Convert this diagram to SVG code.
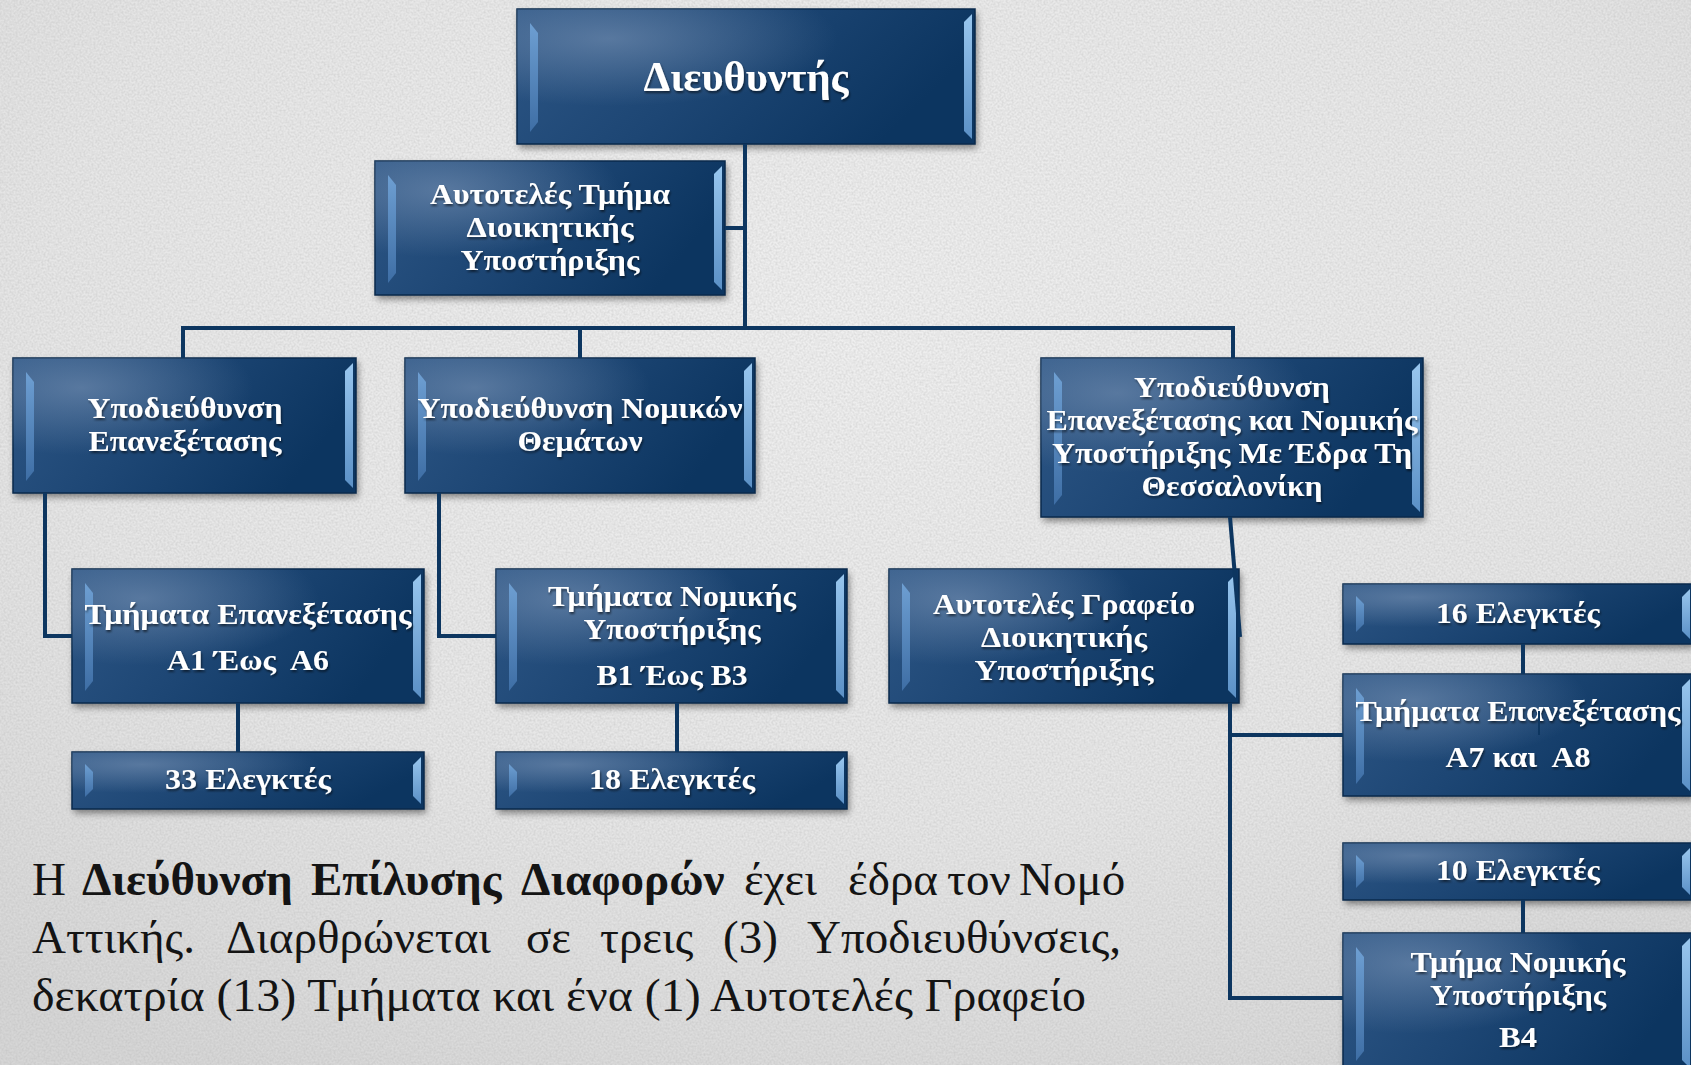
<svg xmlns="http://www.w3.org/2000/svg" width="1691" height="1065" viewBox="0 0 1691 1065">
<style>
.bx{fill:url(#body);stroke:#0a2a4c;stroke-width:1.5}
.hl{fill:url(#hl)}
.sh{fill:#000;opacity:.45;filter:url(#blur)}
.bl{fill:url(#bvL)}
.br{fill:url(#bvR)}
.t{font-family:"Liberation Serif","Times New Roman",serif;font-weight:bold;font-size:29px;fill:#fff;text-anchor:middle;filter:url(#tsh)}
.c{fill:none;stroke:#0d3660;stroke-width:4;stroke-linejoin:miter}
.p{font-family:"Liberation Serif","Times New Roman",serif;font-size:47px;fill:#141414}
.pb{font-weight:bold}
</style>
<defs>
<radialGradient id="bg" cx="0.5" cy="0.3" r="0.8">
<stop offset="0" stop-color="#efefef"/>
<stop offset="0.6" stop-color="#e6e6e6"/>
<stop offset="1" stop-color="#d6d6d6"/>
</radialGradient>
<filter id="paper" x="0" y="0" width="1" height="1">
<feTurbulence type="fractalNoise" baseFrequency="0.5" numOctaves="3" seed="7"/>
<feColorMatrix type="matrix" values="0 0 0 0 0.4  0 0 0 0 0.4  0 0 0 0 0.4  0.6 0 0 0 -0.2"/>
</filter>
<linearGradient id="body" x1="0" y1="0" x2="1" y2="0.3">
<stop offset="0" stop-color="#2d5685"/>
<stop offset="0.5" stop-color="#1d4674"/>
<stop offset="1" stop-color="#0c3560"/>
</linearGradient>
<radialGradient id="hl" cx="0.2" cy="0.22" r="0.5">
<stop offset="0" stop-color="#7a94b6" stop-opacity="0.6"/>
<stop offset="1" stop-color="#7a94b6" stop-opacity="0"/>
</radialGradient>
<linearGradient id="bvL" x1="0" y1="0" x2="0" y2="1">
<stop offset="0" stop-color="#6e9fd2"/>
<stop offset="1" stop-color="#3e6ea5"/>
</linearGradient>
<linearGradient id="bvR" x1="0" y1="0" x2="0" y2="1">
<stop offset="0" stop-color="#98c6ee"/>
<stop offset="1" stop-color="#5b90c6"/>
</linearGradient>
<filter id="blur" x="-10%" y="-20%" width="120%" height="150%">
<feGaussianBlur stdDeviation="3.5"/>
</filter>
<filter id="tsh" x="-5%" y="-20%" width="110%" height="150%">
<feDropShadow dx="1" dy="2" stdDeviation="1" flood-color="#000" flood-opacity="0.55"/>
</filter>
</defs>

<rect width="1691" height="1065" fill="url(#bg)"/>
<rect width="1691" height="1065" filter="url(#paper)"/>

<g id="node-director">
<rect class="sh" x="519" y="13" width="458" height="135"/>
<rect class="bx" x="517" y="9" width="458" height="135"/>
<rect class="hl" x="517" y="9" width="458" height="135"/>
<polygon class="bl" points="530,23 538,33 538,122 530,132"/>
<polygon class="br" points="972,14 964,22 964,131 972,139"/>
<text class="t" style="font-size:42px" x="746" y="91" textLength="205" lengthAdjust="spacingAndGlyphs">Διευθυντής</text>
</g>

<g id="node-autoteles-tmima">
<rect class="sh" x="377" y="165" width="350" height="134"/>
<rect class="bx" x="375" y="161" width="350" height="134"/>
<rect class="hl" x="375" y="161" width="350" height="134"/>
<polygon class="bl" points="388,175 396,185 396,273 388,283"/>
<polygon class="br" points="722,166 714,174 714,282 722,290"/>
<text class="t" x="550" y="204" textLength="240" lengthAdjust="spacingAndGlyphs">Αυτοτελές Τμήμα</text>
<text class="t" x="550" y="237" textLength="167" lengthAdjust="spacingAndGlyphs">Διοικητικής</text>
<text class="t" x="550" y="270" textLength="179" lengthAdjust="spacingAndGlyphs">Υποστήριξης</text>
</g>

<g id="node-ypod-epanex">
<rect class="sh" x="15" y="362" width="343" height="135"/>
<rect class="bx" x="13" y="358" width="343" height="135"/>
<rect class="hl" x="13" y="358" width="343" height="135"/>
<polygon class="bl" points="26,372 34,382 34,471 26,481"/>
<polygon class="br" points="353,363 345,371 345,480 353,488"/>
<text class="t" x="185" y="418" textLength="195" lengthAdjust="spacingAndGlyphs">Υποδιεύθυνση</text>
<text class="t" x="185" y="451" textLength="193" lengthAdjust="spacingAndGlyphs">Επανεξέτασης</text>
</g>

<g id="node-ypod-nomikon">
<rect class="sh" x="407" y="362" width="350" height="135"/>
<rect class="bx" x="405" y="358" width="350" height="135"/>
<rect class="hl" x="405" y="358" width="350" height="135"/>
<polygon class="bl" points="418,372 426,382 426,471 418,481"/>
<polygon class="br" points="752,363 744,371 744,480 752,488"/>
<text class="t" x="580" y="418" textLength="325" lengthAdjust="spacingAndGlyphs">Υποδιεύθυνση Νομικών</text>
<text class="t" x="580" y="451" textLength="125" lengthAdjust="spacingAndGlyphs">Θεμάτων</text>
</g>

<g id="node-ypod-thessaloniki">
<rect class="sh" x="1043" y="362" width="382" height="159"/>
<rect class="bx" x="1041" y="358" width="382" height="159"/>
<rect class="hl" x="1041" y="358" width="382" height="159"/>
<polygon class="bl" points="1054,372 1062,382 1062,495 1054,505"/>
<polygon class="br" points="1420,363 1412,371 1412,504 1420,512"/>
<text class="t" x="1232" y="397" textLength="196" lengthAdjust="spacingAndGlyphs">Υποδιεύθυνση</text>
<text class="t" x="1232" y="430" textLength="371" lengthAdjust="spacingAndGlyphs">Επανεξέτασης και Νομικής</text>
<text class="t" x="1232" y="463" textLength="360" lengthAdjust="spacingAndGlyphs">Υποστήριξης Με Έδρα Τη</text>
<text class="t" x="1232" y="496" textLength="181" lengthAdjust="spacingAndGlyphs">Θεσσαλονίκη</text>
</g>

<g id="node-tmimata-a1-a6">
<rect class="sh" x="74" y="573" width="352" height="134"/>
<rect class="bx" x="72" y="569" width="352" height="134"/>
<rect class="hl" x="72" y="569" width="352" height="134"/>
<polygon class="bl" points="85,583 93,593 93,681 85,691"/>
<polygon class="br" points="421,574 413,582 413,690 421,698"/>
<text class="t" x="248" y="624" textLength="327" lengthAdjust="spacingAndGlyphs">Τμήματα Επανεξέτασης</text>
<text class="t" x="248" y="670" textLength="162" lengthAdjust="spacingAndGlyphs" xml:space="preserve">Α1 Έως  Α6</text>
</g>

<g id="node-tmimata-b1-b3">
<rect class="sh" x="498" y="573" width="351" height="134"/>
<rect class="bx" x="496" y="569" width="351" height="134"/>
<rect class="hl" x="496" y="569" width="351" height="134"/>
<polygon class="bl" points="509,583 517,593 517,681 509,691"/>
<polygon class="br" points="844,574 836,582 836,690 844,698"/>
<text class="t" x="672" y="606" textLength="248" lengthAdjust="spacingAndGlyphs">Τμήματα Νομικής</text>
<text class="t" x="672" y="639" textLength="177" lengthAdjust="spacingAndGlyphs">Υποστήριξης</text>
<text class="t" x="672" y="685" textLength="151" lengthAdjust="spacingAndGlyphs">Β1 Έως Β3</text>
</g>

<g id="node-33-elegktes">
<rect class="sh" x="74" y="756" width="352" height="57"/>
<rect class="bx" x="72" y="752" width="352" height="57"/>
<rect class="hl" x="72" y="752" width="352" height="57"/>
<polygon class="bl" points="85,764 93,772 93,789 85,797"/>
<polygon class="br" points="421,757 413,765 413,796 421,804"/>
<text class="t" x="248" y="789" textLength="166" lengthAdjust="spacingAndGlyphs">33 Ελεγκτές</text>
</g>

<g id="node-18-elegktes">
<rect class="sh" x="498" y="756" width="351" height="57"/>
<rect class="bx" x="496" y="752" width="351" height="57"/>
<rect class="hl" x="496" y="752" width="351" height="57"/>
<polygon class="bl" points="509,764 517,772 517,789 509,797"/>
<polygon class="br" points="844,757 836,765 836,796 844,804"/>
<text class="t" x="672" y="789" textLength="166" lengthAdjust="spacingAndGlyphs">18 Ελεγκτές</text>
</g>

<g id="node-autoteles-grafeio">
<rect class="sh" x="891" y="573" width="350" height="134"/>
<rect class="bx" x="889" y="569" width="350" height="134"/>
<rect class="hl" x="889" y="569" width="350" height="134"/>
<polygon class="bl" points="902,583 910,593 910,681 902,691"/>
<polygon class="br" points="1236,574 1228,582 1228,690 1236,698"/>
<text class="t" x="1064" y="614" textLength="262" lengthAdjust="spacingAndGlyphs">Αυτοτελές Γραφείο</text>
<text class="t" x="1064" y="647" textLength="166" lengthAdjust="spacingAndGlyphs">Διοικητικής</text>
<text class="t" x="1064" y="680" textLength="179" lengthAdjust="spacingAndGlyphs">Υποστήριξης</text>
</g>

<g id="node-16-elegktes">
<rect class="sh" x="1345" y="588" width="350" height="60"/>
<rect class="bx" x="1343" y="584" width="350" height="60"/>
<rect class="hl" x="1343" y="584" width="350" height="60"/>
<polygon class="bl" points="1356,596 1364,604 1364,624 1356,632"/>
<polygon class="br" points="1690,589 1682,597 1682,631 1690,639"/>
<text class="t" x="1518" y="623" textLength="164" lengthAdjust="spacingAndGlyphs">16 Ελεγκτές</text>
</g>

<g id="node-tmimata-a7-a8">
<rect class="sh" x="1345" y="678" width="350" height="122"/>
<rect class="bx" x="1343" y="674" width="350" height="122"/>
<rect class="hl" x="1343" y="674" width="350" height="122"/>
<polygon class="bl" points="1356,688 1364,698 1364,774 1356,784"/>
<polygon class="br" points="1690,679 1682,687 1682,783 1690,791"/>
<text class="t" x="1518" y="721" textLength="325" lengthAdjust="spacingAndGlyphs">Τμήματα Επανεξέτασης</text>
<text class="t" x="1518" y="767" textLength="145" lengthAdjust="spacingAndGlyphs" xml:space="preserve">Α7 και  Α8</text>
</g>

<g id="node-10-elegktes">
<rect class="sh" x="1345" y="847" width="350" height="57"/>
<rect class="bx" x="1343" y="843" width="350" height="57"/>
<rect class="hl" x="1343" y="843" width="350" height="57"/>
<polygon class="bl" points="1356,855 1364,863 1364,880 1356,888"/>
<polygon class="br" points="1690,848 1682,856 1682,887 1690,895"/>
<text class="t" x="1518" y="880" textLength="164" lengthAdjust="spacingAndGlyphs">10 Ελεγκτές</text>
</g>

<g id="node-tmima-b4">
<rect class="sh" x="1345" y="937" width="350" height="140"/>
<rect class="bx" x="1343" y="933" width="350" height="140"/>
<rect class="hl" x="1343" y="933" width="350" height="140"/>
<polygon class="bl" points="1356,947 1364,957 1364,1051 1356,1061"/>
<polygon class="br" points="1690,938 1682,946 1682,1060 1690,1068"/>
<text class="t" x="1518" y="972" textLength="215" lengthAdjust="spacingAndGlyphs">Τμήμα Νομικής</text>
<text class="t" x="1518" y="1005" textLength="176" lengthAdjust="spacingAndGlyphs">Υποστήριξης</text>
<text class="t" x="1518" y="1047" textLength="38" lengthAdjust="spacingAndGlyphs">Β4</text>
</g>

<g id="connectors">
<path class="c" d="M745,144 V328"/>
<path class="c" d="M725,228 H745"/>
<path class="c" d="M183,358 V328 H1233 V358"/>
<path class="c" d="M580,328 V358"/>
<path class="c" d="M45,493 V636 H72"/>
<path class="c" d="M439,493 V636 H496"/>
<path class="c" d="M238,703 V752"/>
<path class="c" d="M677,703 V752"/>
<path class="c" d="M1230,517 L1240,637"/>
<path class="c" d="M1230,703 V998 H1343"/>
<path class="c" d="M1230,735 H1343"/>
<path class="c" d="M1523,644 V674"/>
<path class="c" d="M1523,900 V933"/>
<path d="M1539,711 V735" stroke="#0d3660" stroke-width="2"/>
</g>

<g id="caption">
<text class="p" y="895"><tspan x="32">Η</tspan><tspan class="pb" x="82">Διεύθυνση</tspan><tspan class="pb" x="311">Επίλυσης</tspan><tspan class="pb" x="521">Διαφορών</tspan><tspan x="744">έχει</tspan><tspan x="848">έδρα</tspan><tspan x="947">τον</tspan><tspan x="1019">Νομό</tspan></text>
<text class="p" y="953"><tspan x="32">Αττικής.</tspan><tspan x="226">Διαρθρώνεται</tspan><tspan x="526">σε</tspan><tspan x="600">τρεις</tspan><tspan x="723">(3)</tspan><tspan x="807">Υποδιευθύνσεις,</tspan></text>
<text class="p" x="32" y="1011" textLength="1054" lengthAdjust="spacingAndGlyphs">δεκατρία (13) Τμήματα και ένα (1) Αυτοτελές Γραφείο</text>
</g>
</svg>
